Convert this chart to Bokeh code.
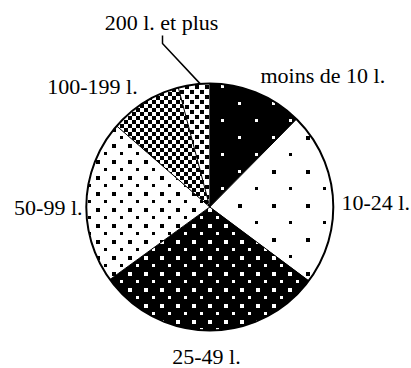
import math, zlib, struct, base64
from bokeh.plotting import figure
from bokeh.models import Range1d, ImageURLTexture
from bokeh.core.properties import value
from bokeh.embed import file_html
from bokeh.resources import INLINE

# ---- data ----
categories = ["moins de 10 l.", "10-24 l.", "25-49 l.", "50-99 l.", "100-199 l.", "200 l. et plus"]
shares = [12.4, 22.8, 29.8, 21.4, 9.5, 4.1]

# ---- layout (page pixels, y downward) ----
PAGE_W, PAGE_H = 411, 368
CX, CY, R = 209.3, 206.5, 123.5

def dy(page_y):
    return PAGE_H - page_y

label_pos = [(260, 75, "left"), (341, 202, "left"), (206, 356, "center"),
             (82, 207, "right"), (92, 86, "center"), (161, 22, "center")]
leader_knee = (162, 43)
leader_top = 35

def png_url(size, bg_black, squares):
    grid = [[1 if bg_black else 0] * size for _ in range(size)]
    for (x, y, s) in squares:
        for yy in range(y, y + s):
            for xx in range(x, x + s):
                grid[yy % size][xx % size] = 0 if bg_black else 1
    raw = b"".join(b"\x00" + bytes(0 if v else 255 for v in row) for row in grid)
    def chunk(t, d):
        return struct.pack(">I", len(d)) + t + d + struct.pack(">I", zlib.crc32(t + d) & 0xffffffff)
    ihdr = struct.pack(">IIBBBBB", size, size, 8, 0, 0, 0, 0)
    data = b"\x89PNG\r\n\x1a\n" + chunk(b"IHDR", ihdr) + chunk(b"IDAT", zlib.compress(raw)) + chunk(b"IEND", b"")
    return "data:image/png;base64," + base64.b64encode(data).decode()

# pattern styles per slice: (black background?, squares (x, y, side), tile size)
specs = [
    (True, [(0, 0, 3), (17, 17, 3)], 34),
    (False, [(0, 0, 4), (17, 17, 3)], 34),
    (True, [(0, 0, 4), (8, 8, 3)], 16),
    (False, [(0, 0, 4), (8, 8, 3)], 16),
    (True, [(0, 0, 4), (4, 4, 4)], 8),
    (False, [(0, 0, 4), (5, 5, 4)], 10),
]

p = figure(width=PAGE_W, height=PAGE_H, output_backend="svg", toolbar_location=None,
           x_range=Range1d(0, PAGE_W), y_range=Range1d(0, PAGE_H),
           x_axis_type=None, y_axis_type=None, min_border=0)
p.grid.visible = False
p.outline_line_color = None

total = sum(shares)
cum = 0.0
bounds = []
for i, s in enumerate(shares):
    t1 = cum / total * 360.0
    cum += s
    t2 = cum / total * 360.0
    bounds.append((t1, t2))
    bg_black, sq, size = specs[i]
    name = "pat%d" % i
    texture = ImageURLTexture(url=png_url(size, bg_black, sq))
    p.wedge(x=CX, y=dy(CY), radius=R, start_angle=90 - t2, end_angle=90 - t1,
            start_angle_units="deg", end_angle_units="deg", direction="anticlock",
            line_color=None, fill_color="black" if bg_black else "white", fill_alpha=1.0,
            hatch_pattern=value(name), hatch_extra={name: texture},
            hatch_scale=size, hatch_color="black")

xs0, ys0, xs1, ys1 = [], [], [], []
for (t1, t2) in bounds:
    a = math.radians(t1)
    xs0.append(CX); ys0.append(dy(CY))
    xs1.append(CX + R * math.sin(a)); ys1.append(dy(CY - R * math.cos(a)))
p.segment(x0=xs0, y0=ys0, x1=xs1, y1=ys1, line_color="black", line_width=1)

p.arc(x=CX, y=dy(CY), radius=R, start_angle=0, end_angle=2 * math.pi,
      line_color="black", line_width=2)

t1, t2 = bounds[-1]
am = math.radians(t1 + 0.7 * (t2 - t1))
ex, ey = CX + R * math.sin(am), CY - R * math.cos(am)
p.line(x=[ex, leader_knee[0], leader_knee[0]],
       y=[dy(ey), dy(leader_knee[1]), dy(leader_top)],
       line_color="black", line_width=1.5)

for name, (lx, ly, al) in zip(categories, label_pos):
    p.text(x=[lx], y=[dy(ly)], text=[name], text_align=al, text_baseline="alphabetic",
           text_font=value("Liberation Serif"), text_font_size="22px", text_color="black")

open("out.html", "w").write(file_html(p, INLINE))
